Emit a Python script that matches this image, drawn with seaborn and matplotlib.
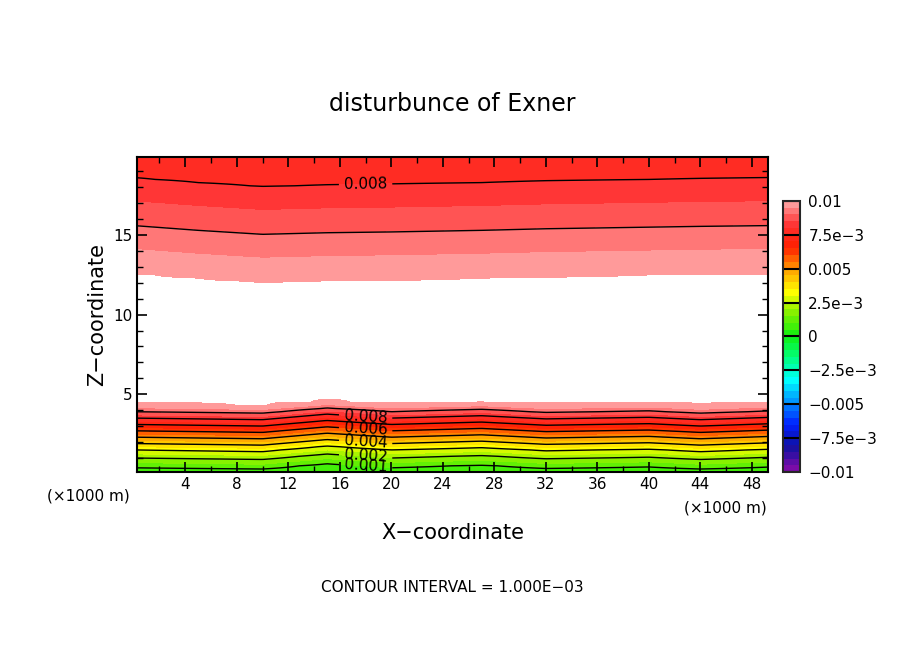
import numpy as np
import matplotlib
matplotlib.use("Agg")
import matplotlib.pyplot as plt
import seaborn as sns
from matplotlib.colors import LinearSegmentedColormap, BoundaryNorm

sns.set_theme(style="ticks")
plt.rcParams['font.family'] = ['DejaVu Sans']
plt.rcParams['text.color'] = 'black'
plt.rcParams['axes.labelcolor'] = 'black'
plt.rcParams['xtick.color'] = 'black'
plt.rcParams['ytick.color'] = 'black'
plt.rcParams['axes.axisbelow'] = False

# vertical profile of the Exner disturbance (z in km)
prof_z = [0.1, 0.4, 1.0, 1.5, 1.9, 2.3, 2.7, 3.1, 3.5, 3.9, 4.4, 8.0, 12.5, 14.0, 15.5, 17.0, 18.5, 19.9]
prof_v = [0.0007, 0.001, 0.002, 0.003, 0.004, 0.005, 0.006, 0.007, 0.008, 0.009, 0.010, 0.0105,
          0.010, 0.0095, 0.009, 0.0085, 0.008, 0.0077]
# horizontal height shifts of lower and upper layers (km)
shift_x = [0, 5, 10, 15, 20, 27, 32, 40, 44, 49.5]
lower_shift = [0.0, -0.05, -0.1, 0.25, 0.0, 0.15, -0.05, 0.05, -0.1, 0.05]
upper_shift = [0.1, -0.2, -0.45, -0.35, -0.3, -0.2, -0.1, 0.0, 0.05, 0.1]

labelled_levels = [0.001, 0.002, 0.004, 0.006, 0.008]
plain_levels = [0.003, 0.005, 0.007, 0.009]
cb_ticks = [-0.01, -0.0075, -0.005, -0.0025, 0, 0.0025, 0.005, 0.0075, 0.01]
cb_labels = ["\u22120.01", "\u22127.5e\u22123", "\u22120.005", "\u22122.5e\u22123", "0",
             "2.5e\u22123", "0.005", "7.5e\u22123", "0.01"]
xticks = [4, 8, 12, 16, 20, 24, 28, 32, 36, 40, 44, 48]
yticks = [5, 10, 15]

x = np.linspace(0.25, 49.25, 246)
z = np.linspace(0.1, 19.9, 100)
X, Z = np.meshgrid(x, z)
w = np.clip((Z - 4.0) / 4.0, 0, 1)
sh = (1 - w) * np.interp(X, shift_x, lower_shift) + w * np.interp(X, shift_x, upper_shift)
V = np.interp(Z - sh, prof_z, prof_v)

cmap = LinearSegmentedColormap.from_list("ex", [
    "#7a0ca8", "#1010a0", "#0020ff", "#0090ff", "#00ffff", "#00ff80", "#10f010",
    "#80f000", "#ffff00", "#ffa000", "#ff2000", "#ff3030", "#ff9a9a"])
levels = np.arange(-0.01, 0.01 + 1e-9, 0.0005)
norm = BoundaryNorm(levels, 256)

fig = plt.figure(figsize=(9.04, 6.54), dpi=100)
ax = fig.add_axes([0.1515, 0.278, 0.698, 0.4817])
ax.set_axisbelow(False)
cf = ax.contourf(X, Z, V, levels=levels, cmap=cmap, norm=norm)
ax.contour(X, Z, V, levels=plain_levels, colors='black', linewidths=1)
cl = ax.contour(X, Z, V, levels=labelled_levels, colors='black', linewidths=1)
ax.clabel(cl, fmt='%.3f', fontsize=11,
          manual=[(18, 0.4), (18, 1.0), (18, 1.9), (18, 2.7), (18, 3.5), (18, 18.5)], inline=True)
ax.set_xlim(0.25, 49.25)
ax.set_ylim(0.1, 19.9)
ax.set_xticks(xticks)
ax.set_yticks(yticks)
ax.set_xticks(np.arange(2, 50, 2), minor=True)
ax.set_yticks(np.arange(1, 20, 1), minor=True)
ax.tick_params(which='both', direction='in', top=True, right=True, bottom=True, left=True,
               labelsize=11, color='black')
ax.tick_params(which='major', length=7, width=1.2)
ax.tick_params(which='minor', length=4, width=1)
for s in ax.spines.values():
    s.set_color('black'); s.set_linewidth(1.5)
ax.set_xlabel("X\u2212coordinate", fontsize=15, labelpad=22)
ax.set_ylabel("Z\u2212coordinate", fontsize=15)
fig.text(0.5, 0.83, "disturbunce of Exner", ha='center', fontsize=17)
fig.text(0.052, 0.235, "(\u00d71000 m)", fontsize=11)
fig.text(0.757, 0.217, "(\u00d71000 m)", fontsize=11)
fig.text(0.5, 0.095, "CONTOUR INTERVAL = 1.000E\u221203", ha='center', fontsize=11)

cax = fig.add_axes([0.866, 0.278, 0.019, 0.415])
cb = fig.colorbar(cf, cax=cax, ticks=cb_ticks)
cb.ax.minorticks_off()
cb.ax.set_yticklabels(cb_labels)
cb.ax.tick_params(labelsize=11, length=0, pad=6)
cb.outline.set_linewidth(1.5)
for t in cb_ticks:
    cb.ax.axhline(t, color='black', lw=1.5)
fig.savefig("out.png", dpi=100)
